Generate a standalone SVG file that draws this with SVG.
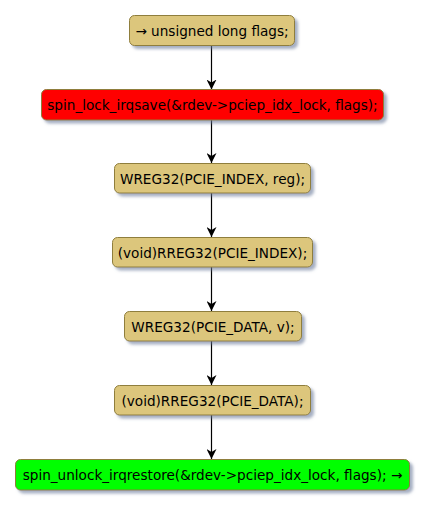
<svg xmlns="http://www.w3.org/2000/svg" width="427" height="507" viewBox="0 0 427 507">
<defs>
<filter id="sh" x="-10%" y="-30%" width="130%" height="180%">
<feGaussianBlur in="SourceAlpha" stdDeviation="1.5"/>
<feOffset dx="3" dy="3" result="b"/>
<feFlood flood-color="#6a7a9a" flood-opacity="0.6"/>
<feComposite in2="b" operator="in"/>
<feMerge><feMergeNode/><feMergeNode in="SourceGraphic"/></feMerge>
</filter>
<marker id="ah" viewBox="0 0 10 10" refX="10" refY="5" markerWidth="10" markerHeight="10" markerUnits="userSpaceOnUse" orient="auto">
<path d="M0,0 L10,5 L0,10 L3,5 Z" fill="#000"/>
</marker>
</defs>
<style>
.box{stroke:#8f7e3d;stroke-width:1;filter:url(#sh)}
.act{fill:#dcc67c}
.red{fill:#ff0000}
.grn{fill:#00ff00}
text{font-family:"DejaVu Sans",sans-serif;font-size:13.6px;fill:#000;text-anchor:middle}
.c line{stroke:#000;stroke-width:1.2;marker-end:url(#ah)}
</style>
<rect width="427" height="507" fill="#fff"/>
<g class="c" id="connectors">
<line x1="211.5" y1="45.5" x2="211.5" y2="89.5"/>
<line x1="211.5" y1="120" x2="211.5" y2="163"/>
<line x1="211.5" y1="193" x2="211.5" y2="237"/>
<line x1="211.5" y1="267" x2="211.5" y2="311"/>
<line x1="211.5" y1="341" x2="211.5" y2="385"/>
<line x1="211.5" y1="415" x2="211.5" y2="459"/>
</g>
<g id="n1"><rect class="box act" x="129.5" y="15.5" width="165" height="30" rx="5"/><text x="212" y="36">→ unsigned long flags;</text></g>
<g id="n2"><rect class="box red" x="41.5" y="89.5" width="342" height="30.5" rx="5"/><text x="212.5" y="110">spin_lock_irqsave(&amp;rdev-&gt;pciep_idx_lock, flags);</text></g>
<g id="n3"><rect class="box act" x="114.5" y="163.5" width="196" height="29.5" rx="5"/><text x="212.5" y="183.5">WREG32(PCIE_INDEX, reg);</text></g>
<g id="n4"><rect class="box act" x="112.5" y="237.5" width="200" height="29.5" rx="5"/><text x="212.5" y="257.5">(void)RREG32(PCIE_INDEX);</text></g>
<g id="n5"><rect class="box act" x="124.5" y="311.5" width="177" height="29.5" rx="5"/><text x="213" y="331.5">WREG32(PCIE_DATA, v);</text></g>
<g id="n6"><rect class="box act" x="114.5" y="385.5" width="196" height="29.5" rx="5"/><text x="212.5" y="405.5">(void)RREG32(PCIE_DATA);</text></g>
<g id="n7"><rect class="box grn" x="15.5" y="459.5" width="394" height="30.5" rx="5"/><text x="212.5" y="480">spin_unlock_irqrestore(&amp;rdev-&gt;pciep_idx_lock, flags); →</text></g>
</svg>
